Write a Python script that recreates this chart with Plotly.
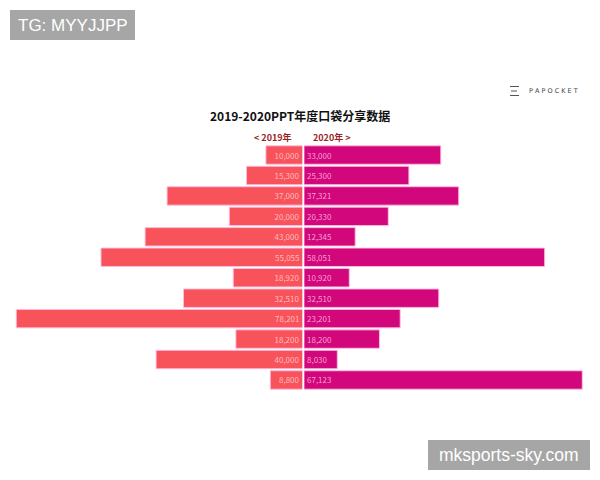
import plotly.graph_objects as go

categories = [f"项目{i}" for i in range(1, 13)]
values_2019 = [10000, 15300, 37000, 20000, 43000, 55055, 18920, 32510, 78201, 18200, 40000, 8800]
values_2020 = [33000, 25300, 37321, 20330, 12345, 58051, 10920, 32510, 23201, 18200, 8030, 67123]
title_text = "2019-2020PPT年度口袋分享数据"
left_label = "< 2019年"
right_label = "2020年 >"

W, H = 600, 480
def py(p):
    return 1 - p / H
def px(p):
    return p / W

FONT = "Noto Sans CJK SC"
LEFT_COLOR = "#F8535B"
RIGHT_COLOR = "#D2077B"
EDGE = "rgba(255,190,225,0.9)"

fig = go.Figure()
fig.add_trace(go.Bar(
    y=categories, x=values_2019, orientation="h",
    xaxis="x", yaxis="y",
    marker=dict(color=LEFT_COLOR, line=dict(color=EDGE, width=1)),
    text=[f"{v:,}" for v in values_2019],
    textposition="inside", insidetextanchor="start",
    textfont=dict(family=FONT, size=8, color="rgba(255,215,215,0.8)"),
    textangle=0, cliponaxis=False, showlegend=False, hoverinfo="skip",
))
fig.add_trace(go.Bar(
    y=categories, x=values_2020, orientation="h",
    xaxis="x2", yaxis="y",
    marker=dict(color=RIGHT_COLOR, line=dict(color=EDGE, width=1)),
    text=[f"{v:,}" for v in values_2020],
    textposition="inside", insidetextanchor="start",
    textfont=dict(family=FONT, size=8, color="rgba(255,200,230,0.8)"),
    textangle=0, cliponaxis=False, showlegend=False, hoverinfo="skip",
))

y_dom = [py(390.2), py(144.8)]
fig.update_layout(
    width=W, height=H,
    margin=dict(l=0, r=0, t=0, b=0),
    paper_bgcolor="white", plot_bgcolor="white",
    bargap=0.1,
    uniformtext=dict(minsize=6, mode="show"),
    xaxis=dict(domain=[0, px(302.5)], range=[82650, 0], visible=False, fixedrange=True),
    xaxis2=dict(domain=[px(304), 1], range=[0, 71400], visible=False, fixedrange=True),
    yaxis=dict(domain=y_dom, autorange="reversed", visible=False, fixedrange=True),
    font=dict(family=FONT),
)

def ann(text, x, y, size, color, family=FONT, xanchor="center"):
    return dict(text=text, x=px(x), y=py(y), xref="paper", yref="paper",
                xanchor=xanchor, yanchor="middle", showarrow=False,
                font=dict(family=family, size=size, color=color))

annotations = [
    ann(f"<b>{title_text}</b>", 300, 115, 12, "#111111"),
    ann(f"<b>{left_label}</b>", 294, 137, 9, "#9A1F24", xanchor="right"),
    ann(f"<b>{right_label}</b>", 311, 137, 9, "#9A1F24", xanchor="left"),
    ann("P A P O C K E T", 527, 91, 6.5, "#444444", family="DejaVu Sans", xanchor="left"),
    ann("TG: MYYJJPP", 72.5, 25, 17, "white", family="Liberation Sans"),
    ann("mksports-sky.com", 509, 455, 17.5, "white", family="Liberation Sans"),
]
shapes = [
    dict(type="rect", xref="paper", yref="paper", x0=px(10), x1=px(135), y0=py(40), y1=py(10),
         fillcolor="#A6A6A6", line=dict(width=0), layer="below"),
    dict(type="rect", xref="paper", yref="paper", x0=px(428), x1=px(590), y0=py(470), y1=py(440),
         fillcolor="#A6A6A6", line=dict(width=0), layer="below"),
]
for yy, x0, x1 in [(86.5, 510, 519), (91, 511, 517), (95.5, 510, 519)]:
    shapes.append(dict(type="line", xref="paper", yref="paper", x0=px(x0), x1=px(x1),
                       y0=py(yy), y1=py(yy), line=dict(color="#555555", width=1)))

fig.update_layout(annotations=annotations, shapes=shapes)
fig.write_html("out.html", config={"displayModeBar": False},
               post_script="document.body.style.margin='0';document.body.style.overflow='hidden';")
